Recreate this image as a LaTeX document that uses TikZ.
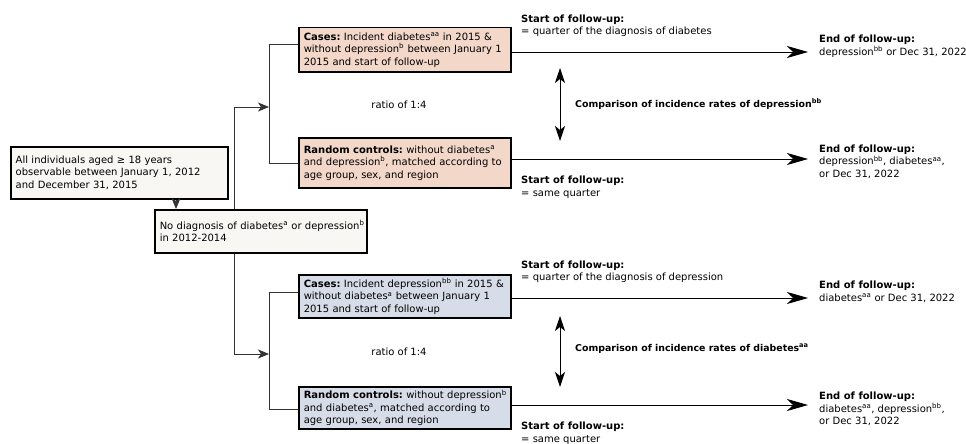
\documentclass[tikz,border=0pt]{standalone}
\usepackage{fontspec}
\setmainfont{DejaVu Sans}
\usetikzlibrary{arrows.meta}
\frenchspacing
\definecolor{peach}{HTML}{F3D7C9}
\definecolor{bluegray}{HTML}{D6DCE8}
\definecolor{offwhite}{HTML}{F8F7F3}
\definecolor{linegray}{HTML}{333333}
\newcommand{\sups}[1]{\textsuperscript{#1}}
\tikzset{
  x=1pt,y=-1pt,
  every node/.style={font=\fontsize{10}{12.5}\selectfont},
  boxbase/.style={draw=black,line width=1.5pt,anchor=north west,align=left,inner xsep=5pt,inner ysep=0pt},
  whitebox/.style={boxbase,fill=offwhite},
  peachbox/.style={boxbase,fill=peach},
  bluebox/.style={boxbase,fill=bluegray},
  lbl/.style={anchor=west,align=left,inner sep=0pt},
  cmplbl/.style={lbl,font=\fontsize{9.4}{12.5}\selectfont},
  conn/.style={draw=linegray,line width=0.8pt},
  smallarrow/.style={conn,-{Stealth[length=11pt,width=9pt,inset=3pt]}},
  bigarrow/.style={draw=black,line width=0.9pt,-{Stealth[length=21pt,width=12pt,inset=6pt]}},
  dblarrow/.style={draw=black,line width=0.9pt,{Stealth[length=15pt,width=10pt,inset=4pt]}-{Stealth[length=15pt,width=10pt,inset=4pt]}},
}
\begin{document}
\begin{tikzpicture}
\useasboundingbox (0,0) rectangle (966,444);

% left boxes
\node[whitebox,text width=207pt,minimum height=52pt] (all) at (10,146)
  {\mbox{All individuals aged ≥ 18 years}\\\mbox{observable between January 1, 2012}\\\mbox{and December 31, 2015}};
\node[whitebox,text width=202pt,minimum height=43pt] (nodiag) at (154,209)
  {\mbox{No diagnosis of diabetes\sups{a} or depression\sups{b}}\\\mbox{in 2012-2014}};

% upper branch boxes
\node[peachbox,text width=202pt,minimum height=44pt] (case1) at (298,27)
  {\mbox{\textbf{Cases:} Incident diabetes\sups{aa} in 2015 \&}\\\mbox{without depression\sups{b} between January 1}\\\mbox{2015 and start of follow-up}};
\node[peachbox,text width=202pt,minimum height=50pt] (ctrl1) at (298,137)
  {\mbox{\textbf{Random controls:} without diabetes\sups{a}}\\\mbox{and depression\sups{b}, matched according to}\\\mbox{age group, sex, and region}};

% lower branch boxes
\node[bluebox,text width=202pt,minimum height=43pt] (case2) at (298,274)
  {\mbox{\textbf{Cases:} Incident depression\sups{bb} in 2015 \&}\\\mbox{without diabetes\sups{a} between January 1}\\\mbox{2015 and start of follow-up}};
\node[bluebox,text width=202pt,minimum height=42pt] (ctrl2) at (298,386)
  {\mbox{\textbf{Random controls:} without depression\sups{b}}\\\mbox{and diabetes\sups{a}, matched according to}\\\mbox{age group, sex, and region}};

% coordinates for connectors
\coordinate (tup) at (234,107);
\coordinate (tdn) at (234,354);
\coordinate (bup) at (269,107);
\coordinate (bdn) at (269,354);
\coordinate (e1) at (808,52);
\coordinate (e2) at (808,159);
\coordinate (e3) at (808,298);
\coordinate (e4) at (808,405);
\coordinate (d1a) at (560,68);
\coordinate (d1b) at (560,141);
\coordinate (d2a) at (560,316);
\coordinate (d2b) at (560,387);

% connectors
\draw[smallarrow] (all.south -| 176,0) -- (nodiag.north -| 176,0);
\draw[smallarrow] (nodiag.north -| tup) -- (tup) -- (bup);
\draw[smallarrow] (nodiag.south -| tdn) -- (tdn) -- (bdn);
\draw[conn] (case1.west |- 0,44) -- (269,44) -- (269,163) -- (ctrl1.west |- 0,163);
\draw[conn] (case2.west |- 0,292) -- (269,292) -- (269,409) -- (ctrl2.west |- 0,409);

\draw[bigarrow] (case1.east |- e1) -- (e1);
\draw[bigarrow] (ctrl1.east |- e2) -- (e2);
\draw[bigarrow] (case2.east |- e3) -- (e3);
\draw[bigarrow] (ctrl2.east |- e4) -- (e4);
\draw[dblarrow] (d1a) -- (d1b);
\draw[dblarrow] (d2a) -- (d2b);

% labels
\node[anchor=center,inner sep=0pt] (r1) at (399,105) {ratio of 1:4};
\node[anchor=center,inner sep=0pt] (r2) at (399,352) {ratio of 1:4};

\node[lbl] (s1) at (521,25.5) {\textbf{Start of follow-up:}\\= quarter of the diagnosis of diabetes};
\node[lbl] (f1) at (819,46) {\textbf{End of follow-up:}\\depression\sups{bb} or Dec 31, 2022};
\node[cmplbl] (c1) at (575,104) {\textbf{Comparison of incidence rates of depression\sups{bb}}};
\node[lbl] (f2) at (819,161.5) {\textbf{End of follow-up:}\\depression\sups{bb}, diabetes\sups{aa},\\or Dec 31, 2022};
\node[lbl] (s2) at (521,187) {\textbf{Start of follow-up:}\\= same quarter};

\node[lbl] (s3) at (521,271.5) {\textbf{Start of follow-up:}\\= quarter of the diagnosis of depression};
\node[lbl] (f3) at (819,292) {\textbf{End of follow-up:}\\diabetes\sups{aa} or Dec 31, 2022};
\node[cmplbl] (c2) at (575,349) {\textbf{Comparison of incidence rates of diabetes\sups{aa}}};
\node[lbl] (f4) at (819,409) {\textbf{End of follow-up:}\\diabetes\sups{aa}, depression\sups{bb},\\or Dec 31, 2022};
\node[lbl] (s4) at (521,433) {\textbf{Start of follow-up:}\\= same quarter};
\end{tikzpicture}
\end{document}
